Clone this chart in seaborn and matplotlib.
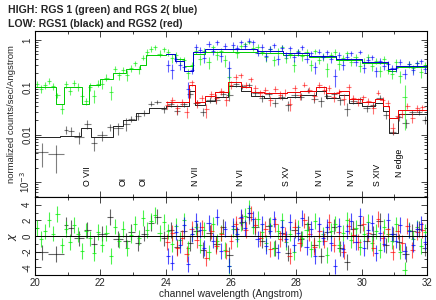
import matplotlib
matplotlib.use('Agg')  # no display
import matplotlib.pyplot as plt
import matplotlib.ticker as mticker
import seaborn as sns
import pandas as pd
import numpy as np

sns.set_theme(style='ticks')
plt.rcParams['font.family'] = ['Liberation Sans', 'DejaVu Sans']

# ---- model step curves: bin edges and levels (counts/s/A) ----
green_edges = [20.0, 20.65, 20.9, 21.45, 21.65, 22.0, 22.4, 22.8, 23.2, 23.4, 24.0,
               24.3, 24.55, 24.85, 25.2, 26.0, 26.8, 27.6, 28.4, 29.2, 30.0, 30.8, 31.05, 32.0]
green_levels = [0.10, 0.045, 0.10, 0.045, 0.11, 0.15, 0.20, 0.25, 0.30, 0.48, 0.50,
                0.40, 0.28, 0.50, 0.55, 0.56, 0.52, 0.48, 0.43, 0.38, 0.33, 0.22, 0.27]

blue_edges = [24.0, 24.3, 24.55, 24.85, 25.2, 26.0, 26.8, 27.6, 28.4, 29.2, 30.0, 30.8, 31.05, 32.0]
blue_levels = [0.50, 0.36, 0.22, 0.55, 0.65, 0.66, 0.58, 0.52, 0.46, 0.40, 0.34, 0.24, 0.28]

black_edges = [20.0, 20.75, 21.4, 21.7, 22.4, 22.7, 23.1, 23.5, 24.0, 24.7, 24.9, 25.2, 25.5,
               25.9, 26.3, 26.6, 27.0, 27.7, 28.1, 28.6, 28.9, 29.3, 29.6, 30.0, 30.4, 30.65,
               30.85, 31.1, 32.0]
black_levels = [0.009, 0.0095, 0.014, 0.009, 0.015, 0.02, 0.028, 0.036, 0.04, 0.085, 0.042,
                0.052, 0.062, 0.105, 0.082, 0.066, 0.06, 0.062, 0.068, 0.082, 0.06, 0.07,
                0.046, 0.04, 0.047, 0.032, 0.011, 0.027]

red_edges = [24.0, 24.7, 24.9, 25.2, 25.5, 25.9, 26.3, 26.6, 27.0, 27.7, 28.1, 28.6, 28.9,
             29.3, 29.6, 30.0, 30.4, 30.65, 30.85, 31.1, 32.0]
red_levels = [0.05, 0.11, 0.05, 0.065, 0.078, 0.13, 0.10, 0.08, 0.075, 0.08, 0.085, 0.10,
              0.075, 0.085, 0.058, 0.048, 0.056, 0.04, 0.022, 0.033]

# ---- channel grids and residuals (chi) ----
green_x = np.arange(20.0625, 32.0, 0.125)
green_chi = [1.0, -0.4, 0.6, 2.1, 0.3, 2.8, -1.2, 0.9,
             -0.8, 1.4, 0.2, -1.9, 0.7, -0.3, -2.2, 0.5,
             -1.1, 0.4, -2.6, 1.2, -0.6, 0.9, -1.5, 0.1,
             1.6, -0.2, 2.3, 0.8, 1.9, 2.7, 0.4, 1.8,
             0.6, -1.0, 1.3, -0.5, 2.0, -1.6, 0.3, 1.1,
             -1.2, 0.8, -2.1, 1.5, -0.7, 0.4, -1.8, -3.9,
             0.9, -0.4, 1.7, 2.6, 3.6, 1.2, 2.2, 0.5,
             -0.9, 1.4, -1.6, 0.6, 2.0, -0.8, 0.3, -2.1,
             1.1, -0.3, 0.8, -1.7, 1.9, -0.6, 0.2, -2.4,
             0.7, 1.6, -1.1, 0.4, 2.1, -0.5, 1.0, -1.4,
             0.3, 1.8, -0.9, 0.6, -1.8, 1.2, 0.2, -0.7,
             1.5, -2.0, -4.3, 0.8, -0.4, 1.1, -1.3, 0.5]
green_hw = 0.0625
green_frac = 0.18

blue_x = np.arange(24.0625, 32.0, 0.125)
blue_chi = [-2.6, -3.4, 0.5, -1.2, 1.4, -3.6, 0.2, 1.9,
            0.8, -1.5, 1.7, -0.6, 2.4, -1.9, 0.9, -3.8,
            1.3, 0.2, 2.4, 1.0, 3.0, 2.2, -0.4, 1.6,
            -1.3, 0.7, 2.2, -2.0, 1.1, -0.4, 1.8, -1.1,
            0.4, 2.3, -1.4, 0.9, -2.6, 1.5, -0.2, 1.2,
            -0.9, -3.9, 1.3, -1.7, 0.6, 1.9, -0.8, 2.6,
            -1.5, 0.8, 1.7, -2.2, 0.4, -1.0, 2.0, 0.3,
            -0.6, 1.4, -1.9, 0.7, -1.1, 0.9, 1.6, -0.8]
blue_hw = 0.0625
blue_frac = 0.16

black_lo_x = [20.2, 20.65, 20.95, 21.1, 21.35, 21.6, 21.8, 22.05, 22.3, 22.55, 22.8]
black_lo_hw = [0.2, 0.25, 0.05, 0.1, 0.15, 0.1, 0.1, 0.15, 0.1, 0.15, 0.1]
black_lo_chi = [-2.1, -2.3, 1.4, 1.0, -0.3, 0.8, -1.0, 0.3, 2.4, -0.4, -0.6]
black_lo_frac = 0.25

black_x = np.arange(22.95, 32.0, 0.2)
black_chi = [0.5, -0.9, 0.3, 1.7, 2.5,
             -0.3, 0.8, -1.4, 0.6, -0.9,
             0.7, -1.8, 0.4, -1.0, 1.2,
             -2.4, 0.9, 1.8, 2.5, 1.1,
             -0.6, 1.3, -1.5, 0.4, -2.2,
             0.8, -0.4, 1.6, -1.1, -2.5,
             0.5, 1.2, -1.6, -3.3, 0.9,
             1.4, -0.7, 0.3, 1.9, -1.2,
             0.2, -0.8, -2.3, 0.6, 0.9, -1.6]
black_hw = 0.1
black_frac = 0.15

red_x = np.arange(24.05, 32.0, 0.15)
red_chi = [-0.8, 0.4, -1.6, -0.2, -2.3, 0.9, -0.5,
           1.1, -2.8, 0.6, -1.3, 0.3, -1.9,
           -0.7, 1.6, 2.3, 0.8, 2.9, 1.4, -0.3,
           0.9, -1.7, 1.5, -0.4, 0.2, -2.6,
           1.2, -0.9, 2.0, 0.3, -1.4, 0.7, -0.6,
           1.8, -1.1, 0.5, -2.0, 1.3, 0.1,
           -0.8, 1.6, 0.4, -1.5, 2.2, -0.3, 0.9,
           -2.1, 0.6, -0.9, 1.3, -1.8, 0.5, 0.8]
red_hw = 0.075
red_frac = 0.17

# ---- line identifications ----
line_names = ['O VII', 'OI', 'OI', 'N VII', 'N VI', 'S XV', 'N VI', 'N VI', 'S XIV', 'N edge']
line_pos = [21.6, 22.7, 23.3, 24.9, 26.3, 27.7, 28.7, 29.7, 30.5, 31.15]
line_base = [8.2e-4] * 9 + [1.3e-3]

# ---- tick labels ----
flux_ticks = [1e-3, 1e-2, 1e-1, 1]
flux_ticklabels = ['10$^{-3}$', '0.01', '0.1', '1']
chi_ticks = [-4, -2, 0, 2, 4]
wave_ticks = [20, 22, 24, 26, 28, 30, 32]


def step_at(edges, levels, x):
    idx = np.searchsorted(edges, x, side='right') - 1
    return np.asarray(levels)[np.clip(idx, 0, len(levels) - 1)]


def build(x, hw, chi, frac, edges, levels):
    x = np.asarray(x, dtype=float)
    chi = np.asarray(chi, dtype=float)
    model = step_at(edges, levels, x)
    err = frac * model
    flux = model + chi * err
    return pd.DataFrame({'x': x, 'hw': np.broadcast_to(hw, x.shape), 'flux': flux,
                         'err': err, 'chi': chi})


green = build(green_x, green_hw, green_chi, green_frac, green_edges, green_levels)
blue = build(blue_x, blue_hw, blue_chi, blue_frac, blue_edges, blue_levels)
black = pd.concat([
    build(black_lo_x, black_lo_hw, black_lo_chi, black_lo_frac, black_edges, black_levels),
    build(black_x, black_hw, black_chi, black_frac, black_edges, black_levels)],
    ignore_index=True)
red = build(red_x, red_hw, red_chi, red_frac, red_edges, red_levels)

fig = plt.figure(figsize=(4.36, 3.0), dpi=100)
ax1 = fig.add_axes([0.0803, 0.3433, 0.899, 0.5533])
ax2 = fig.add_axes([0.0803, 0.0833, 0.899, 0.26], sharex=ax1)

series = [
    (black, black_edges, black_levels, '#000000', '#222222', 0.5),
    (green, green_edges, green_levels, '#00ee00', '#00cc00', 0.6),
    (red, red_edges, red_levels, '#ff0000', '#ee0000', 0.55),
    (blue, blue_edges, blue_levels, '#0000ff', '#0000cc', 0.6),
]

for df, edges, levels, col, mcol, alpha in series:
    ax1.errorbar(df['x'], df['flux'], xerr=df['hw'], yerr=df['err'], fmt='none',
                 ecolor=col, elinewidth=0.8, alpha=alpha, capsize=0)
    model = pd.DataFrame({'x': edges, 'y': list(levels) + [levels[-1]]})
    sns.lineplot(data=model, x='x', y='y', ax=ax1, color=mcol, lw=0.7,
                 drawstyle='steps-post', estimator=None, sort=False)
    ax2.errorbar(df['x'], df['chi'], xerr=df['hw'], yerr=1.0, fmt='none',
                 ecolor=col, elinewidth=0.8, alpha=min(alpha + 0.1, 1.0), capsize=0)

ax2.axhline(0, color='black', lw=0.7, zorder=5)

for name, pos, base in zip(line_names, line_pos, line_base):
    ax1.text(pos, base, name, rotation=90, ha='center', va='bottom', fontsize=6.3,
             color='black')

ax1.set_yscale('log')
ax1.set_ylim(4.8e-4, 1.55)
ax1.set_yticks(flux_ticks)
ax1.set_yticklabels(flux_ticklabels, rotation=90, va='center')
ax1.yaxis.set_minor_locator(mticker.LogLocator(base=10, subs=np.arange(2, 10), numticks=20))
ax1.yaxis.set_minor_formatter(mticker.NullFormatter())
ax1.set_xlim(20, 32)
ax1.set_xlabel('')
ax1.set_ylabel('normalized counts/sec/Angstrom', fontsize=6.8, labelpad=2)
ax1.tick_params(labelbottom=False)

ax2.set_ylim(-5, 5)
ax2.set_yticks(chi_ticks)
ax2.set_yticklabels([str(t) for t in chi_ticks], rotation=90, va='center')
ax2.set_xticks(wave_ticks)
ax2.set_xticks(range(21, 32, 2), minor=True)
ax2.set_yticks(range(-5, 6), minor=True)
ax2.set_xlabel('channel wavelength (Angstrom)', fontsize=7.3, labelpad=1)
ax2.set_ylabel('$\\chi$', fontsize=8, labelpad=2)

for ax in (ax1, ax2):
    ax.tick_params(which='both', direction='in', top=True, right=True, labelsize=7,
                   pad=2, width=0.6)
    ax.tick_params(which='major', length=4)
    ax.tick_params(which='minor', length=2)
    for s in ax.spines.values():
        s.set_linewidth(0.8)
        s.set_color('black')

fig.text(8 / 436, 1 - 10 / 300, 'HIGH: RGS 1 (green) and RGS 2( blue)', fontsize=7.6,
         fontweight='bold', ha='left', va='center')
fig.text(8 / 436, 1 - 24 / 300, 'LOW: RGS1 (black) and RGS2 (red)', fontsize=7.6,
         fontweight='bold', ha='left', va='center')

fig.savefig('out.png', dpi=100)
